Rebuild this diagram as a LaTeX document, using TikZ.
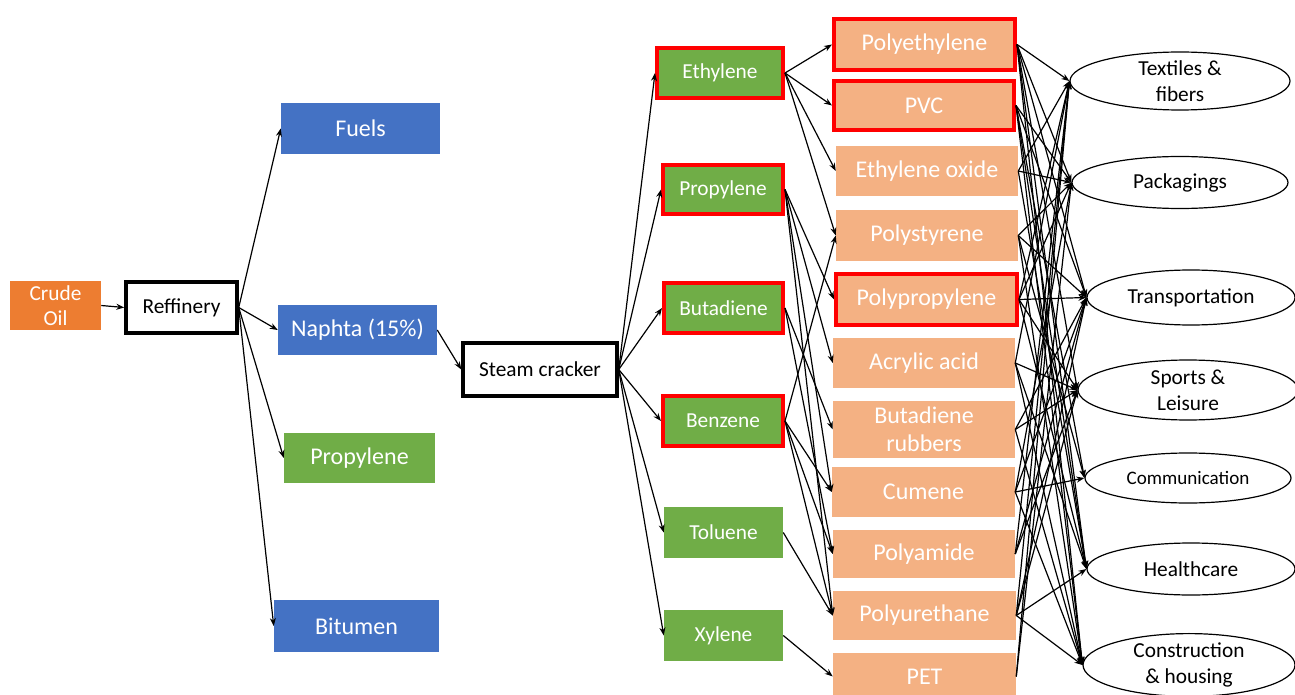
\documentclass[tikz,border=0pt]{standalone}
\usepackage{fontspec}
\setmainfont{Carlito}
\usetikzlibrary{arrows.meta,shapes.geometric}
\definecolor{cblue}{HTML}{4472C4}
\definecolor{cgreen}{HTML}{70AD47}
\definecolor{corange}{HTML}{ED7D31}
\definecolor{cpeach}{HTML}{F4B183}
\begin{document}
\begin{tikzpicture}[x=0.75pt,y=-0.75pt,
  box/.style={rectangle, inner sep=0pt, align=center, text=white},
  bluebox/.style={box, fill=cblue, font=\fontsize{18}{21}\selectfont},
  greenbox/.style={box, fill=cgreen, font=\fontsize{16}{19}\selectfont},
  redframe/.style={draw=red, line width=3pt},
  peachbox/.style={box, fill=cpeach, font=\fontsize{18}{21}\selectfont},
  procbox/.style={rectangle, draw=black, line width=2.6pt, fill=white, inner sep=0pt, font=\fontsize{16}{19}\selectfont},
  usebox/.style={ellipse, draw=black, line width=0.9pt, fill=white, inner sep=0pt, align=center, font=\fontsize{16}{19.5}\selectfont},
  arr/.style={-{Stealth[length=6pt,width=4.5pt]}, line width=0.9pt}
]
\useasboundingbox (0,0) rectangle (1295,695);

% left part
\node[box, fill=corange, font=\fontsize{16}{19}\selectfont, minimum width=68.25pt, minimum height=36.75pt] (crude) at (55.5,305.5) {Crude\\Oil};
\node[procbox, minimum width=83.25pt, minimum height=38.25pt] (ref) at (181.5,307.5) {Reffinery};
\node[bluebox, minimum width=119.25pt, minimum height=38.25pt] (fuels) at (360.5,128.5) {Fuels};
\node[bluebox, minimum width=119.25pt, minimum height=37.5pt] (naphta) at (357.5,330) {Naphta (15\%)};
\node[box, fill=cgreen, font=\fontsize{18}{21}\selectfont, minimum width=113.25pt, minimum height=37.5pt] (lprop) at (359.5,458) {Propylene};
\node[bluebox, minimum width=123.75pt, minimum height=39pt] (bitumen) at (356.5,626) {Bitumen};
\node[procbox, minimum width=115.5pt, minimum height=39.75pt] (steam) at (540,369.5) {Steam cracker};

% green
\node[greenbox, redframe, minimum width=94.5pt, minimum height=37.5pt] (eth) at (720,73) {Ethylene};
\node[greenbox, redframe, minimum width=90pt, minimum height=36.75pt] (pro) at (723,189.5) {Propylene};
\node[greenbox, redframe, minimum width=89.25pt, minimum height=37.5pt] (but) at (723.5,308) {Butadiene};
\node[greenbox, redframe, minimum width=90pt, minimum height=37.5pt] (ben) at (723,421) {Benzene};
\node[greenbox, minimum width=89.25pt, minimum height=38.25pt] (tol) at (723.5,532.5) {Toluene};
\node[greenbox, minimum width=89.25pt, minimum height=38.25pt] (xyl) at (723.5,635.5) {Xylene};

% peach
\node[peachbox, redframe, minimum width=135.75pt, minimum height=38.25pt] (pe) at (924.5,44.5) {Polyethylene};
\node[peachbox, redframe, minimum width=135pt, minimum height=36.75pt] (pvc) at (924,105.5) {PVC};
\node[peachbox, minimum width=136.5pt, minimum height=37.5pt] (eo) at (927,171) {Ethylene oxide};
\node[peachbox, minimum width=136.5pt, minimum height=38.25pt] (ps) at (927,235.5) {Polystyrene};
\node[peachbox, redframe, minimum width=135.75pt, minimum height=38.25pt] (pp) at (926.5,299.5) {Polypropylene};
\node[peachbox, minimum width=136.5pt, minimum height=37.5pt] (aa) at (924,363) {Acrylic acid};
\node[peachbox, minimum width=136.5pt, minimum height=42.75pt] (br) at (924,429.5) {Butadiene\\rubbers};
\node[peachbox, minimum width=137.25pt, minimum height=37.5pt] (cu) at (923.5,492) {Cumene};
\node[peachbox, minimum width=136.5pt, minimum height=36pt] (pa) at (924,554) {Polyamide};
\node[peachbox, minimum width=137.25pt, minimum height=36.75pt] (pu) at (924.5,615.5) {Polyurethane};
\node[peachbox, minimum width=137.25pt, minimum height=35.25pt] (pet) at (924.5,676.5) {PET};

% uses
\node[usebox, minimum width=165pt, minimum height=43.5pt] (tex) at (1180,81) {Textiles \&\\fibers};
\node[usebox, minimum width=162pt, minimum height=39pt] (pack) at (1180,182.5) {Packagings};
\node[usebox, minimum width=156pt, minimum height=41.25pt] (trans) at (1191,297.5) {Transportation};
\node[usebox, minimum width=165pt, minimum height=45pt] (sport) at (1188,390) {Sports \&\\Leisure};
\node[usebox, font=\fontsize{14.3}{17}\selectfont, minimum width=154.5pt, minimum height=37.5pt] (comm) at (1188,478) {Communication};
\node[usebox, minimum width=156pt, minimum height=39pt] (health) at (1191,569) {Healthcare};
\node[usebox, minimum width=159pt, minimum height=45pt] (cons) at (1189,665) {Construction\\\& housing};

% connectors
\draw[arr] (crude.east) -- (ref.west);
\foreach \t in {fuels,naphta,lprop,bitumen} \draw[arr] (ref.east) -- (\t.west);
\draw[arr] (naphta.east) -- (steam.west);
\foreach \t in {eth,pro,but,ben,tol,xyl} \draw[arr] (steam.east) -- (\t.west);

\foreach \s/\t in {eth/pe,eth/pvc,eth/eo,eth/ps,
  pro/pp,pro/aa,pro/cu,pro/pu,
  but/br,but/pa,
  ben/ps,ben/cu,ben/pa,ben/pu,
  tol/pu,xyl/pet}
  \draw[arr] (\s.east) -- (\t.west);

\foreach \s/\t in {pe/tex,pe/pack,pe/trans,pe/sport,pe/health,pe/cons,
  pvc/pack,pvc/trans,pvc/comm,pvc/health,pvc/cons,
  eo/tex,eo/pack,eo/health,
  ps/pack,ps/trans,ps/comm,ps/cons,
  pp/tex,pp/pack,pp/trans,pp/sport,pp/health,
  aa/tex,aa/sport,aa/health,aa/cons,
  br/trans,br/sport,br/cons,
  cu/pack,cu/trans,cu/comm,cu/cons,
  pa/tex,pa/trans,pa/sport,
  pu/tex,pu/trans,pu/sport,pu/cons,pu/health,
  pet/tex,pet/pack}
  \draw[arr] (\s.east) -- (\t.west);
\end{tikzpicture}
\end{document}
